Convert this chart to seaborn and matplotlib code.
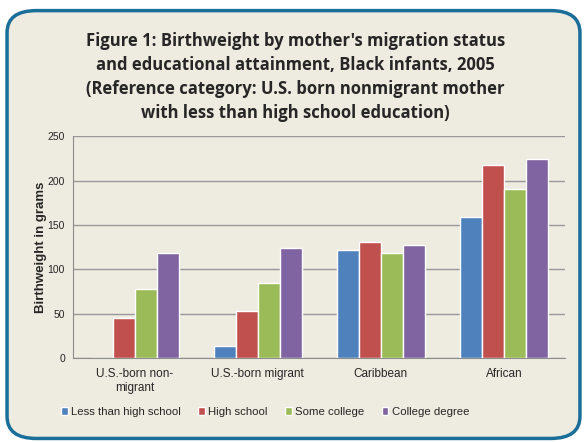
import pandas as pd
import seaborn as sns
import matplotlib.pyplot as plt
from matplotlib.patches import FancyBboxPatch
from matplotlib.ticker import MultipleLocator, FixedLocator

# Chart data
groups = ['U.S.-born non-\nmigrant', 'U.S.-born migrant', 'Caribbean', 'African']
education = ['Less than high school', 'High school', 'Some college', 'College degree']
less_than_hs = [0, 13, 122, 159]
high_school = [45, 53, 131, 217]
some_college = [78, 85, 118, 191]
college_degree = [118, 124, 127, 224]
colors = ['#4F81BD', '#C0504D', '#9BBB59', '#8064A2']

df = pd.DataFrame({
    'group': groups * 4,
    'education': [e for e in education for _ in groups],
    'grams': less_than_hs + high_school + some_college + college_degree,
})

sns.set_style('white')
plt.rcParams['font.family'] = ['Liberation Sans', 'DejaVu Sans']

fig = plt.figure(figsize=(5.87, 4.42), dpi=100)
fig.patch.set_facecolor('white')

# rounded panel behind everything
panel = FancyBboxPatch((0.012, 0.008), 0.976, 0.968,
                       boxstyle='round,pad=0,rounding_size=0.05',
                       transform=fig.transFigure, facecolor='#EEEBE0',
                       edgecolor='#1A6E9A', linewidth=2.5, zorder=-5)
fig.patches.append(panel)

ax = fig.add_axes([0.125, 0.19, 0.838, 0.502])
ax.set_zorder(2)
ax.set_facecolor('#EEEBE0')
sns.barplot(data=df, x='group', y='grams', hue='education', hue_order=education,
            palette=colors, width=0.72, gap=0, saturation=1, ax=ax, zorder=3)

ax.set_ylim(0, 250)
ax.set_xlim(-0.5, 3.5)
ax.yaxis.set_major_locator(MultipleLocator(50))
ax.yaxis.set_minor_locator(MultipleLocator(10))
ax.grid(axis='y', color='#999999', linewidth=1, zorder=0)
ax.set_axisbelow(True)
for s in ['top', 'right']:
    ax.spines[s].set_visible(False)
ax.spines['left'].set_color('#8C8C8C')
ax.spines['bottom'].set_color('#8C8C8C')
ax.tick_params(axis='y', which='major', length=4, color='#8C8C8C', labelsize=7.5, pad=2)
ax.tick_params(axis='y', which='minor', length=3, color='#8C8C8C')
ax.tick_params(axis='x', which='major', length=0, labelsize=8.5, pad=7)
ax.xaxis.set_minor_locator(FixedLocator([-0.5, 0.5, 1.5, 2.5, 3.5]))
ax.tick_params(axis='x', which='minor', length=4, color='#8C8C8C')
ax.set_xlabel('')
ax.set_ylabel('Birthweight in grams', fontsize=9.5, fontweight='bold')
ax.yaxis.set_label_coords(-0.053, 0.5)

ax.legend(loc='upper center', bbox_to_anchor=(0.39, -0.175), ncol=4, frameon=False,
          fontsize=8.2, handlelength=0.6, handleheight=0.6, handletextpad=0.3,
          columnspacing=1.5)

fig.text(0.503, 0.725,
         "Figure 1: Birthweight by mother's migration status\n"
         "and educational attainment, Black infants, 2005\n"
         "(Reference category: U.S. born nonmigrant mother\n"
         "with less than high school education)",
         ha='center', va='bottom', fontsize=12, fontweight='bold',
         family=['Open Sans', 'DejaVu Sans'], linespacing=1.42)

fig.savefig('out.png', dpi=100)
